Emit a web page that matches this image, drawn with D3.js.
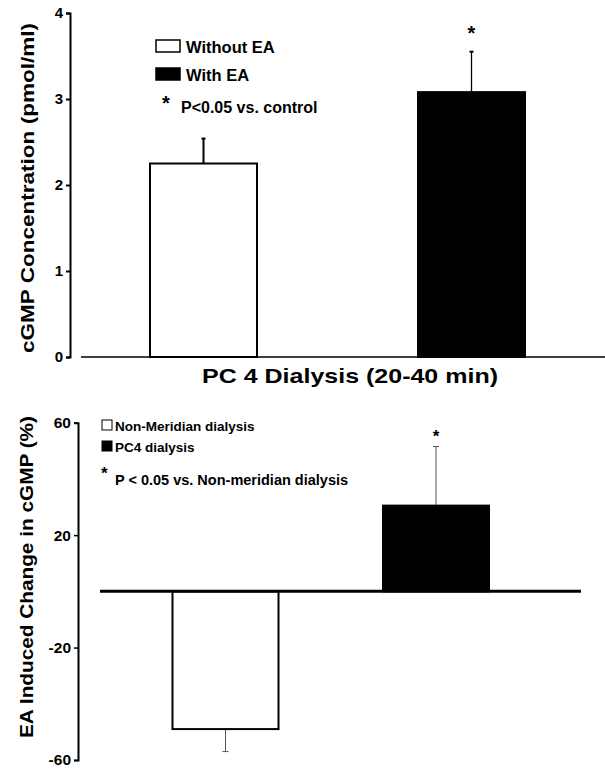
<!DOCTYPE html>
<html>
<head>
<meta charset="utf-8">
<script src="https://cdn.jsdelivr.net/npm/d3@7"></script>
<style>
  body { margin: 0; background: #fff; }
  svg { font-family: "Liberation Sans", Arial, sans-serif; font-weight: bold; }
</style>
</head>
<body>
<div id="chart"></div>
<script>
// top panel data
const topCats = ["Without EA", "With EA"];
const topMeans = [2.25, 3.08];
const topErr = [0.29, 0.47];
const topSig = [false, true];
const topTicks = [0, 1, 2, 3, 4];

// bottom panel data
const botCats = ["Non-Meridian dialysis", "PC4 dialysis"];
const botMeans = [-49, 30.5];
const botErr = [8, 21];
const botSig = [false, true];
const botTicks = [-60, -20, 20, 60];

const fills = ["#fff", "#000"];
const fmt = d => String(d); // plain hyphen for negatives

const svg = d3.select("#chart").append("svg")
    .attr("width", 605)
    .attr("height", 772);

// ---------- top panel ----------
const y1 = d3.scaleLinear().domain([0, 4]).range([357, 13]);
const x1 = d3.scalePoint().domain(topCats).range([203.5, 471.5]);
const bw1 = 107;

const ax1 = svg.append("g")
    .attr("transform", "translate(70,0)")
    .call(d3.axisLeft(y1).tickValues(topTicks).tickFormat(fmt).tickSize(4).tickSizeOuter(4).tickPadding(3));
ax1.select(".domain").attr("stroke-width", 2);
ax1.selectAll(".tick line").attr("stroke-width", 2);
ax1.selectAll(".tick text").attr("font-size", 15).attr("font-weight", "bold").attr("font-family", "Liberation Sans, Arial");

svg.append("line")
    .attr("x1", 81).attr("x2", 605)
    .attr("y1", y1(0)).attr("y2", y1(0))
    .attr("stroke", "#000").attr("stroke-width", 1.5);

// error bars first, bars drawn over them
topCats.forEach((c, i) => {
    const cx = x1(c);
    svg.append("line")
        .attr("x1", cx).attr("x2", cx)
        .attr("y1", y1(topMeans[i])).attr("y2", y1(topMeans[i] + topErr[i]))
        .attr("stroke", "#000").attr("stroke-width", i === 0 ? 2 : 1.3);
    svg.append("line")
        .attr("x1", cx - 2).attr("x2", cx + 2)
        .attr("y1", y1(topMeans[i] + topErr[i])).attr("y2", y1(topMeans[i] + topErr[i]))
        .attr("stroke", "#000").attr("stroke-width", 2);
    svg.append("rect")
        .attr("x", cx - bw1 / 2).attr("width", bw1)
        .attr("y", y1(topMeans[i])).attr("height", y1(0) - y1(topMeans[i]))
        .attr("fill", fills[i]).attr("stroke", "#000").attr("stroke-width", 2);
    if (topSig[i]) {
        svg.append("text")
            .attr("x", cx).attr("y", y1(topMeans[i] + topErr[i]) - 12)
            .attr("text-anchor", "middle").attr("font-size", 20)
            .text("*");
    }
});

// top legend
topCats.forEach((c, i) => {
    const ly = 40 + i * 28;
    svg.append("rect")
        .attr("x", 156).attr("y", ly).attr("width", 24).attr("height", 12)
        .attr("fill", fills[i]).attr("stroke", "#000").attr("stroke-width", 1.5);
    svg.append("text")
        .attr("x", 186).attr("y", ly + 13)
        .attr("font-size", 16.5).text(c);
});
svg.append("text").attr("x", 162).attr("y", 110).attr("font-size", 20).text("*");
svg.append("text").attr("x", 181).attr("y", 113).attr("font-size", 16).text("P<0.05 vs. control");

svg.append("text")
    .attr("transform", "translate(34,188) rotate(-90)")
    .attr("text-anchor", "middle")
    .attr("font-size", 19)
    .attr("textLength", 330).attr("lengthAdjust", "spacingAndGlyphs")
    .text("cGMP Concentration (pmol/ml)");

svg.append("text")
    .attr("x", 350).attr("y", 383)
    .attr("text-anchor", "middle")
    .attr("font-size", 21)
    .attr("textLength", 296).attr("lengthAdjust", "spacingAndGlyphs")
    .text("PC 4 Dialysis (20-40 min)");

// ---------- bottom panel ----------
const y2 = d3.scaleLinear().domain([-60, 60]).range([760, 422.7]);
const x2 = d3.scalePoint().domain(botCats).range([225.5, 436]);
const bw2 = 106;

const ax2 = svg.append("g")
    .attr("transform", "translate(78,0)")
    .call(d3.axisLeft(y2).tickValues(botTicks).tickFormat(fmt).tickSize(4).tickSizeOuter(4).tickPadding(3));
ax2.select(".domain").attr("stroke-width", 2);
ax2.selectAll(".tick line").attr("stroke-width", 1.5);
ax2.selectAll(".tick text").attr("font-size", 15.5).attr("font-weight", "bold").attr("font-family", "Liberation Sans, Arial");

botCats.forEach((c, i) => {
    const cx = x2(c);
    const m = botMeans[i];
    const end = m < 0 ? m - botErr[i] : m + botErr[i];
    svg.append("line")
        .attr("x1", cx).attr("x2", cx)
        .attr("y1", y2(m)).attr("y2", y2(end))
        .attr("stroke", "#555").attr("stroke-width", 1);
    svg.append("line")
        .attr("x1", cx - 3).attr("x2", cx + 3)
        .attr("y1", y2(end)).attr("y2", y2(end))
        .attr("stroke", "#555").attr("stroke-width", 1);
    svg.append("rect")
        .attr("x", cx - bw2 / 2).attr("width", bw2)
        .attr("y", y2(Math.max(0, m))).attr("height", Math.abs(y2(m) - y2(0)))
        .attr("fill", fills[i]).attr("stroke", "#000").attr("stroke-width", 2);
    if (botSig[i]) {
        svg.append("text")
            .attr("x", cx).attr("y", y2(end) - 5)
            .attr("text-anchor", "middle").attr("font-size", 17)
            .text("*");
    }
});

svg.append("line")
    .attr("x1", 100).attr("x2", 581)
    .attr("y1", y2(0)).attr("y2", y2(0))
    .attr("stroke", "#000").attr("stroke-width", 3);

// bottom legend
botCats.forEach((c, i) => {
    const ly = 420 + i * 21;
    svg.append("rect")
        .attr("x", 102).attr("y", ly).attr("width", 10).attr("height", 10)
        .attr("fill", fills[i]).attr("stroke", "#000").attr("stroke-width", 1);
    svg.append("text")
        .attr("x", 115).attr("y", ly + 10.5)
        .attr("font-size", 13.5).text(c);
});
svg.append("text").attr("x", 101).attr("y", 479).attr("font-size", 17).text("*");
svg.append("text").attr("x", 115).attr("y", 485).attr("font-size", 14.5).text("P < 0.05 vs. Non-meridian dialysis");

svg.append("text")
    .attr("transform", "translate(33,577) rotate(-90)")
    .attr("text-anchor", "middle")
    .attr("font-size", 17.5)
    .attr("textLength", 322).attr("lengthAdjust", "spacingAndGlyphs")
    .text("EA Induced Change in cGMP (%)");
</script>
</body>
</html>
